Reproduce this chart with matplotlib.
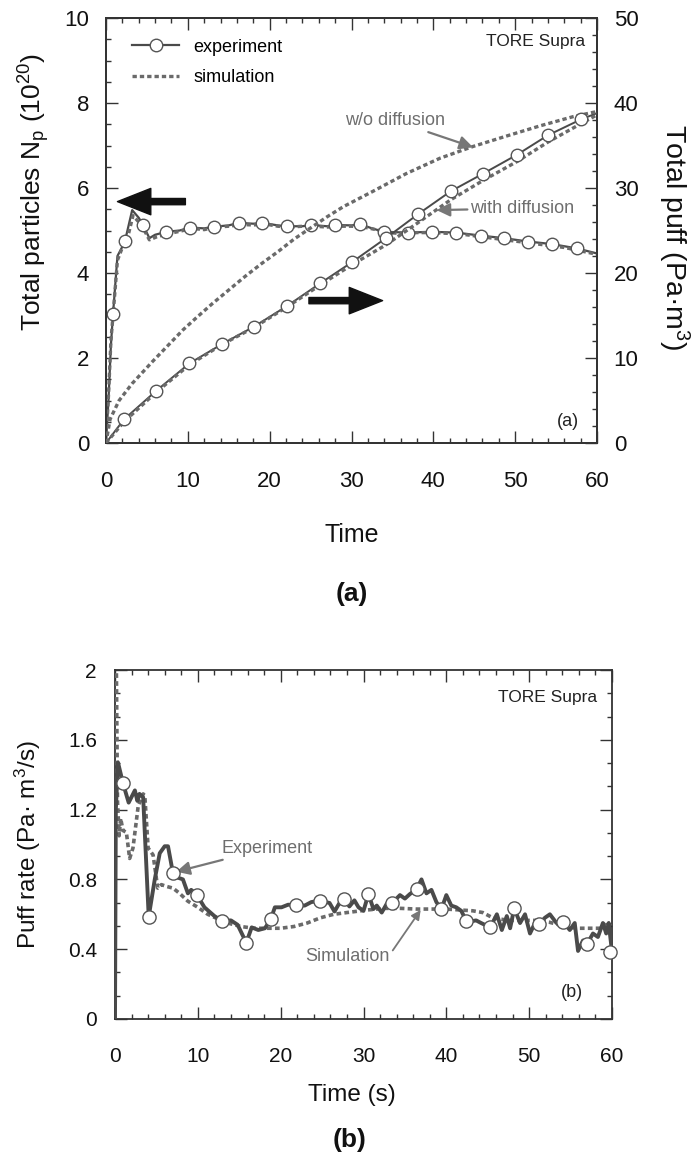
import matplotlib
matplotlib.use("Agg")
import matplotlib.pyplot as plt
from matplotlib.lines import Line2D
from matplotlib.ticker import MultipleLocator, FixedLocator
import numpy as np

plt.rcParams['font.family'] = ['Liberation Sans', 'DejaVu Sans']
plt.rcParams['mathtext.default'] = 'regular'

# ---------------- (a) total particles and total puff ----------------
# experiment: total particles N_p (left axis, 1e20)
np_exp_t = [0, 0.3, 0.6, 0.86, 1.4, 2.0, 2.33, 3.2, 4.0, 4.53, 5.3, 6.0, 7.39, 9.0, 10.25,
            12.0, 13.2, 15.0, 16.2, 18.0, 19.1, 21.0, 22.1, 24.0, 25.1, 27.0, 28.0, 30.0,
            31.06, 32.5, 33.96, 36.9, 39.8, 42.8, 45.8, 48.6, 51.6, 54.5, 57.5, 60.0]
np_exp_v = [0, 1.0, 2.3, 3.04, 4.4, 4.62, 4.76, 5.48, 5.3, 5.13, 4.82, 4.9, 4.97, 5.0, 5.07,
            5.05, 5.09, 5.12, 5.18, 5.16, 5.18, 5.12, 5.1, 5.1, 5.13, 5.1, 5.13, 5.12,
            5.15, 5.05, 4.97, 4.95, 4.97, 4.95, 4.88, 4.82, 4.74, 4.68, 4.58, 4.46]
np_mark_t = [0.86, 2.33, 4.53, 7.39, 10.25, 13.2, 16.2, 19.1, 22.1, 25.1, 28.0, 31.06,
             33.96, 36.9, 39.8, 42.8, 45.8, 48.6, 51.6, 54.5, 57.5]
np_mark_v = [3.04, 4.76, 5.13, 4.97, 5.07, 5.09, 5.18, 5.18, 5.1, 5.13, 5.13, 5.15,
             4.97, 4.95, 4.97, 4.95, 4.88, 4.82, 4.74, 4.68, 4.58]

# simulation (with diffusion): total particles
np_sim_t = [0, 0.3, 0.6, 0.9, 1.4, 2.0, 2.6, 3.3, 4.0, 4.7, 5.3, 6.2, 7.5, 9, 10.5, 12, 13.5,
            15, 16.5, 18, 19.5, 21, 22.5, 24, 25.5, 27, 28.5, 30, 31.5, 33, 34.5, 36, 38,
            40, 42, 44, 46, 48, 50, 52, 54, 56, 58, 60]
np_sim_v = [0, 1.1, 2.4, 3.1, 4.3, 4.6, 4.8, 5.35, 5.2, 5.0, 4.78, 4.85, 4.92, 4.98, 5.05,
            5.02, 5.08, 5.1, 5.14, 5.13, 5.15, 5.1, 5.08, 5.1, 5.1, 5.08, 5.1, 5.1, 5.08,
            5.02, 4.95, 4.93, 4.95, 4.95, 4.93, 4.9, 4.85, 4.8, 4.75, 4.7, 4.65, 4.6,
            4.52, 4.44]

# experiment: total puff (right axis, Pa m^3)
puff_exp_t = [0, 2.2, 6.16, 10.2, 14.2, 18.1, 22.1, 26.2, 30.1, 34.2, 38.1, 42.1, 46.1,
              50.2, 54.0, 58.1, 60.0]
puff_exp_v = [0, 2.78, 6.16, 9.37, 11.65, 13.7, 16.1, 18.8, 21.3, 24.1, 26.9, 29.6, 31.7,
              33.9, 36.2, 38.1, 38.8]

# simulation with diffusion: total puff
puff_dif_t = [0, 2.2, 6.16, 10.2, 14.2, 18.1, 22.1, 26.2, 30.1, 34.2, 38.1, 42.1, 46.1,
              50.2, 54.0, 58.1, 60.0]
puff_dif_v = [0, 2.5, 6.0, 9.2, 11.6, 13.6, 16.0, 18.6, 21.0, 23.3, 25.9, 28.6, 30.9,
              33.1, 35.4, 37.6, 38.6]

# simulation without diffusion: total puff
puff_nodif_t = [0, 0.5, 1.6, 3.2, 5.7, 7.3, 9.4, 11.0, 13.0, 15.0, 17.0, 19.0, 21.0, 23.0,
                25.0, 27.0, 29.0, 32.6, 36.7, 40.8, 44.9, 48.9, 53.0, 57.1, 60.0]
puff_nodif_v = [0, 2.8, 5.0, 7.0, 9.6, 11.2, 13.3, 14.7, 16.4, 18.0, 19.6, 21.1, 22.5, 24.0,
                25.3, 26.6, 27.8, 29.6, 31.7, 33.5, 34.9, 36.1, 37.3, 38.4, 39.0]

# ---------------- (b) puff rate ----------------
rate_exp_t = [0, 0.1, 0.36, 0.97, 1.65, 2.4, 2.7, 2.96, 3.4, 4.07, 4.8, 5.4, 6.0, 6.4, 7.0,
              7.6, 8.2, 8.8, 9.2, 9.9, 10.8, 12.0, 12.9, 14.0, 14.8, 15.85, 16.5, 17.3,
              18.1, 18.8, 19.3, 20.1, 20.9, 21.8, 22.9, 23.7, 24.7, 25.9, 26.5, 27.1, 27.6,
              28.3, 28.9, 29.4, 30.0, 30.6, 31.2, 31.6, 32.2, 32.8, 33.5, 34.4, 35.0, 35.6,
              36.4, 37.0, 37.6, 38.2, 38.8, 39.4, 40.0, 40.6, 41.2, 41.8, 42.4, 43.0, 43.6,
              44.2, 45.3, 46.1, 46.7, 47.3, 47.7, 48.2, 48.9, 49.5, 50.1, 50.7, 51.2, 51.9,
              52.5, 53.3, 54.1, 54.9, 55.5, 55.9, 56.5, 57.0, 57.7, 58.3, 58.9, 59.3, 59.6,
              60.0]
rate_exp_v = [0, 1.2, 1.47, 1.35, 1.24, 1.31, 1.25, 1.29, 1.27, 0.586, 0.8, 0.95, 0.99, 0.99,
              0.835, 0.81, 0.8, 0.72, 0.74, 0.71, 0.64, 0.59, 0.563, 0.565, 0.54, 0.437,
              0.525, 0.51, 0.52, 0.571, 0.64, 0.64, 0.655, 0.653, 0.65, 0.67, 0.678, 0.665,
              0.616, 0.665, 0.69, 0.645, 0.68, 0.64, 0.62, 0.716, 0.63, 0.65, 0.61, 0.66,
              0.667, 0.71, 0.69, 0.716, 0.743, 0.8, 0.72, 0.74, 0.67, 0.629, 0.71, 0.65,
              0.64, 0.62, 0.563, 0.56, 0.565, 0.55, 0.525, 0.6, 0.51, 0.59, 0.52, 0.634,
              0.55, 0.6, 0.49, 0.55, 0.544, 0.58, 0.6, 0.55, 0.558, 0.51, 0.55, 0.39, 0.45,
              0.43, 0.49, 0.47, 0.55, 0.49, 0.55, 0.386]
rate_mark_t = [0.97, 4.07, 7.0, 9.9, 12.9, 15.85, 18.8, 21.8, 24.7, 27.6, 30.6, 33.5, 36.4,
               39.4, 42.4, 45.3, 48.2, 51.2, 54.1, 57.0, 59.8]
rate_mark_v = [1.35, 0.586, 0.835, 0.71, 0.563, 0.437, 0.571, 0.653, 0.678, 0.69, 0.716,
               0.667, 0.743, 0.629, 0.563, 0.525, 0.634, 0.544, 0.558, 0.43, 0.386]

rate_sim_t = [0, 0.15, 0.3, 0.5, 0.68, 0.97, 1.37, 1.77, 2.17, 2.8, 3.4, 3.6, 4.0, 4.6, 5.16,
              5.6, 6.2, 7.0, 7.8, 8.8, 10.0, 11.2, 12.4, 13.6, 15.2, 16.8, 18.4, 20.0, 21.6,
              23.2, 24.8, 26.4, 28.0, 30.5, 32.5, 34.5, 36.4, 38.0, 40.0, 41.6, 43.2, 44.4,
              45.6, 47.5, 49.2, 50.8, 52.4, 54.0, 55.6, 57.2, 58.8, 59.4, 60.0]
rate_sim_v = [2.3, 2.1, 1.25, 1.05, 1.15, 1.08, 1.07, 0.92, 0.98, 1.22, 1.29, 1.28, 0.98,
              0.94, 0.75, 0.77, 0.76, 0.75, 0.72, 0.675, 0.64, 0.6, 0.574, 0.55, 0.53, 0.52,
              0.52, 0.52, 0.53, 0.55, 0.58, 0.6, 0.61, 0.625, 0.634, 0.634, 0.63, 0.63, 0.63,
              0.625, 0.62, 0.61, 0.58, 0.565, 0.565, 0.565, 0.555, 0.535, 0.52, 0.52, 0.52,
              0.56, 0.52]

# ---------------- styling ----------------
W, H = 692, 1159
DARK = '#4a4a4a'
SIM = '#6a6a6a'
NOTE = '#6e6e6e'
SPINE = '#333333'
dots = (0, (1.3, 0.9))


def fx(px):
    return px / W


def fy(py):
    return 1 - py / H


def style_axes(ax, labelsize, xpad, ypad):
    for s in ax.spines.values():
        s.set_color(SPINE)
        s.set_linewidth(1.3)
    ax.tick_params(which='both', direction='in', color=SPINE, width=1.0,
                   labelsize=labelsize, labelcolor='#111111')
    ax.tick_params(which='major', length=8.5)
    ax.tick_params(which='minor', length=3.8)
    ax.tick_params(axis='x', pad=xpad)
    ax.tick_params(axis='y', pad=ypad)


fig = plt.figure(figsize=(W / 100, H / 100), dpi=100)

# ---- panel (a) ----
ax1 = fig.add_axes([fx(106), fy(443), (597 - 106) / W, (443 - 18) / H])
ax2 = ax1.twinx()

ax1.set_xlim(0, 60)
ax1.set_ylim(0, 10)
ax2.set_ylim(0, 50)
ax1.xaxis.set_major_locator(MultipleLocator(10))
ax1.xaxis.set_minor_locator(MultipleLocator(2))
ax1.yaxis.set_major_locator(MultipleLocator(2))
ax1.yaxis.set_minor_locator(MultipleLocator(0.5))
ax2.yaxis.set_major_locator(MultipleLocator(10))
ax2.yaxis.set_minor_locator(MultipleLocator(2))
style_axes(ax1, 16, 20, 12)
style_axes(ax2, 16, 20, 12)
ax1.tick_params(axis='x', which='both', top=True)
ax1.tick_params(axis='y', which='both', right=False)
ax2.tick_params(axis='y', which='both', left=False, right=True)

# particles
ax1.plot(np_exp_t, np_exp_v, color=DARK, lw=1.6, zorder=3)
ax1.plot(np_sim_t, np_sim_v, color=SIM, lw=2.4, ls=dots, zorder=3)
ax1.plot(np_mark_t, np_mark_v, ls='none', marker='o', ms=9, mfc='white', mec='#555555',
         mew=1.0, zorder=4)
# puff
ax2.plot(puff_exp_t, puff_exp_v, color=DARK, lw=1.4, zorder=3)
ax2.plot(puff_dif_t, puff_dif_v, color=SIM, lw=2.4, ls=dots, zorder=3)
ax2.plot(puff_nodif_t, puff_nodif_v, color=SIM, lw=2.4, ls=dots, zorder=3)
ax2.plot(puff_exp_t[1:-1], puff_exp_v[1:-1], ls='none', marker='o', ms=9, mfc='white',
         mec='#555555', mew=1.0, zorder=4)

# thick arrows pointing to the relevant axis
big = dict(facecolor='#111111', edgecolor='#111111', width=4.5, headwidth=19, headlength=24)
ax1.annotate('', xy=(1.4, 5.68), xytext=(9.7, 5.68), arrowprops=big)
ax1.annotate('', xy=(33.8, 3.35), xytext=(24.8, 3.35), arrowprops=big)

# annotations
thin = dict(arrowstyle='-|>', color='#777777', lw=1.6, mutation_scale=20, shrinkA=0, shrinkB=0)
ax2.annotate('w/o diffusion', xy=(44.85, 34.8), xytext=(41.4, 37.9), fontsize=13,
             color=NOTE, ha='right', va='center',
             arrowprops=dict(thin, connectionstyle='arc3,rad=0'))
ax2.annotate('with diffusion', xy=(40.4, 27.4), xytext=(44.5, 27.6), fontsize=13,
             color=NOTE, ha='left', va='center', arrowprops=thin)
ax1.text(0.975, 0.945, 'TORE Supra', transform=ax1.transAxes, ha='right', va='center',
         fontsize=12.5, color='#222222')
ax1.text(0.94, 0.05, '(a)', transform=ax1.transAxes, ha='center', va='center',
         fontsize=13, color='#222222')

leg_handles = [Line2D([], [], color=DARK, lw=1.6, marker='o', ms=9, mfc='white',
                      mec='#555555'),
               Line2D([], [], color=SIM, lw=2.4, ls=dots)]
ax1.legend(leg_handles, ['experiment', 'simulation'], loc='upper left',
           bbox_to_anchor=(0.02, 0.99), frameon=False, fontsize=13, handlelength=2.6,
           handletextpad=0.8, labelspacing=0.75)

fig.text(fx(34), fy(192), 'Total particles N$_p$ (10$^{20}$)', rotation=90, ha='center',
         va='center', fontsize=19, color='#111111')
fig.text(fx(674), fy(237), 'Total puff (Pa·m$^3$)', rotation=-90, ha='center',
         va='center', fontsize=20.5, color='#111111')
fig.text(fx(352), fy(535), 'Time', ha='center', va='center', fontsize=18, color='#111111')
fig.text(fx(352), fy(594), '(a)', ha='center', va='center', fontsize=19,
         fontweight='bold', color='#111111')

# ---- panel (b) ----
ax3 = fig.add_axes([fx(115), fy(1019), (612 - 115) / W, (1019 - 670) / H])
ax3.set_xlim(0, 60)
ax3.set_ylim(0, 2)
ax3.xaxis.set_major_locator(MultipleLocator(10))
ax3.xaxis.set_minor_locator(MultipleLocator(2))
ax3.yaxis.set_major_locator(FixedLocator([0, 0.4, 0.8, 1.2, 1.6, 2.0]))
ax3.yaxis.set_minor_locator(FixedLocator(list(np.arange(0, 2.0001, 0.4 / 3))))
ax3.set_yticklabels(['0', '0.4', '0.8', '1.2', '1.6', '2'])
style_axes(ax3, 15, 20, 13)
ax3.tick_params(which='both', top=True, right=True)

ax3.plot(rate_sim_t, rate_sim_v, color=SIM, lw=2.6, ls=dots, zorder=3)
ax3.plot(rate_exp_t, rate_exp_v, color=DARK, lw=2.8, zorder=3)
ax3.plot(rate_mark_t, rate_mark_v, ls='none', marker='o', ms=9.5, mfc='white',
         mec='#555555', mew=1.0, zorder=4, clip_on=False)

ax3.annotate('Experiment', xy=(7.4, 0.844), xytext=(12.8, 0.977), fontsize=13,
             color=NOTE, ha='left', va='center', arrowprops=thin)
ax3.annotate('Simulation', xy=(36.9, 0.625), xytext=(28.1, 0.36), fontsize=13,
             color=NOTE, ha='center', va='center',
             arrowprops=dict(arrowstyle='-|>', color='#777777', lw=1.3, mutation_scale=14,
                             shrinkA=0, shrinkB=0, relpos=(1.0, 0.6)))
ax3.text(0.97, 0.92, 'TORE Supra', transform=ax3.transAxes, ha='right', va='center',
         fontsize=12.5, color='#222222')
ax3.text(0.92, 0.075, '(b)', transform=ax3.transAxes, ha='center', va='center',
         fontsize=13, color='#222222')

fig.text(fx(28), fy(845), 'Puff rate (Pa· m$^3$/s)', rotation=90, ha='center',
         va='center', fontsize=17.5, color='#111111')
fig.text(fx(352), fy(1095), 'Time (s)', ha='center', va='center', fontsize=17.5,
         color='#111111')
fig.text(fx(350), fy(1140), '(b)', ha='center', va='center', fontsize=19,
         fontweight='bold', color='#111111')

fig.savefig('out.png', dpi=100, facecolor='white')
